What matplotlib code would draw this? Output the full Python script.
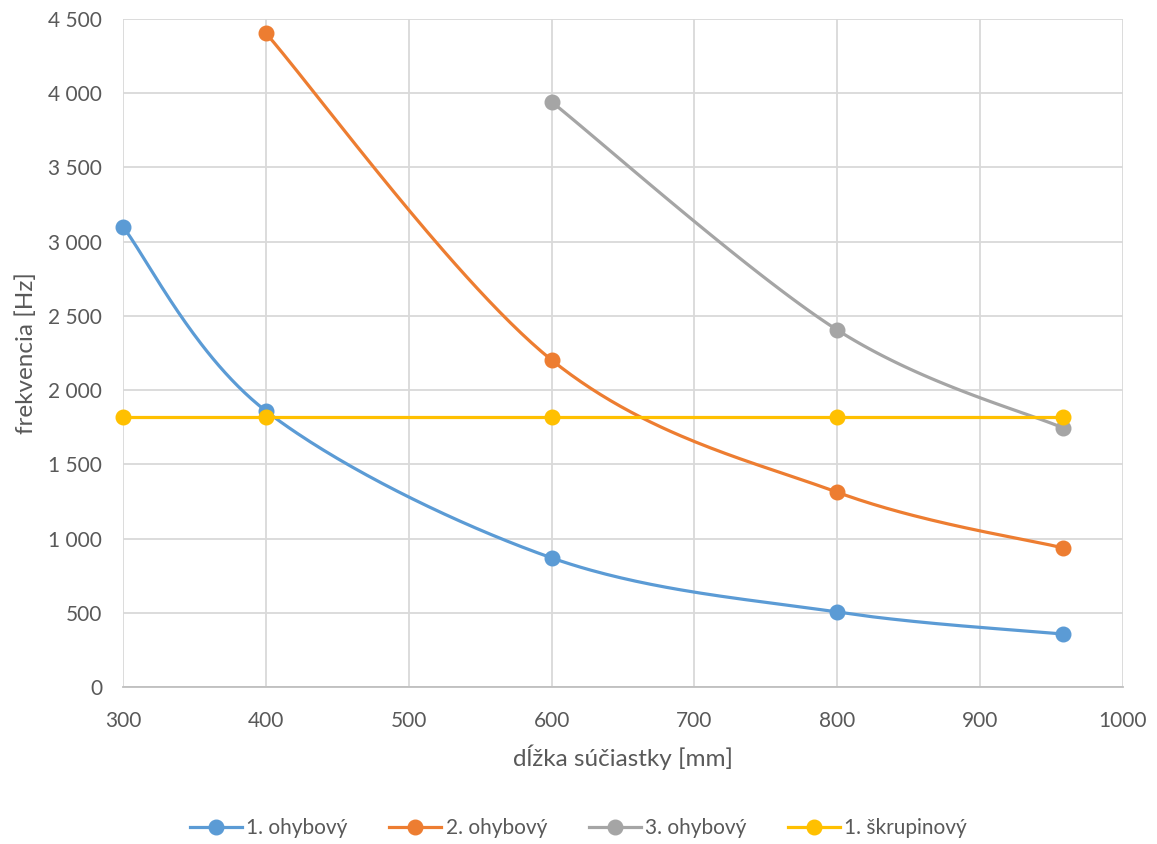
import numpy as np
import matplotlib.pyplot as plt
from matplotlib.ticker import FuncFormatter, MultipleLocator

plt.rcParams['font.family'] = ['Lato', 'DejaVu Sans']

# data
x_blue = [300, 400, 600, 800, 958]
y_blue = [3100, 1860, 870, 505, 357]
x_orange = [400, 600, 800, 958]
y_orange = [4405, 2203, 1312, 937]
x_gray = [600, 800, 958]
y_gray = [3942, 2405, 1745]
x_yellow = [300, 400, 600, 800, 958]
y_yellow = [1820, 1820, 1820, 1820, 1820]

labels = ['1. ohybový', '2. ohybový', '3. ohybový', '1. škrupinový']
colors = ['#5B9BD5', '#ED7D31', '#A5A5A5', '#FFC000']
series = [(x_blue, y_blue), (x_orange, y_orange), (x_gray, y_gray), (x_yellow, y_yellow)]


# Excel-like smoothed line (cubic Bezier through points, Catmull-Rom tangents)
def smooth(xs, ys, n=60):
    p = np.column_stack([xs, ys]).astype(float)
    if len(p) < 3:
        return p[:, 0], p[:, 1]
    ext = np.vstack([p[0], p, p[-1]])
    out = []
    t = np.linspace(0, 1, n)[:, None]
    for i in range(1, len(ext) - 2):
        p0, p1, p2, p3 = ext[i - 1], ext[i], ext[i + 1], ext[i + 2]
        c1 = p1 + (p2 - p0) / 6
        c2 = p2 - (p3 - p1) / 6
        seg = ((1 - t) ** 3) * p1 + 3 * ((1 - t) ** 2) * t * c1 + 3 * (1 - t) * t ** 2 * c2 + t ** 3 * p2
        out.append(seg)
    out = np.vstack(out)
    return out[:, 0], out[:, 1]


fig = plt.figure(figsize=(11.57, 8.44), dpi=100)
ax = fig.add_axes([123 / 1157, 1 - 687 / 844, 1000 / 1157, 668 / 844])

for (xs, ys), c, lab in zip(series, colors, labels):
    sx, sy = smooth(xs, ys)
    ax.plot(sx, sy, color=c, lw=2.3, solid_capstyle='round', zorder=3, clip_on=False)
    ax.plot(xs, ys, 'o', color=c, ms=10.5, zorder=4, clip_on=False)
    ax.plot([], [], '-o', color=c, lw=2.3, ms=10.5, label=lab)

ax.set_xlim(300, 1000)
ax.set_ylim(0, 4500)
ax.xaxis.set_major_locator(MultipleLocator(100))
ax.yaxis.set_major_locator(MultipleLocator(500))
ax.yaxis.set_major_formatter(FuncFormatter(lambda v, p: f'{int(v):,}'.replace(',', ' ')))
ax.grid(True, color='#D9D9D9', lw=1.3, zorder=0)
ax.set_axisbelow(True)
for s in ['top', 'right', 'left']:
    ax.spines[s].set_visible(False)
ax.spines['bottom'].set_color('#BFBFBF')
ax.spines['bottom'].set_linewidth(1.3)
ax.tick_params(length=0, labelsize=15, labelcolor='#595959')
ax.tick_params(axis='x', pad=17)
ax.tick_params(axis='y', pad=15)
ax.set_xlabel('dĺžka súčiastky [mm]', fontsize=17.5, color='#595959', labelpad=10)
ax.set_ylabel('frekvencia [Hz]', fontsize=17.5, color='#595959', labelpad=8)

fig.legend(loc='center', bbox_to_anchor=(0.5, 1 - 828 / 844), ncol=4, frameon=False,
           fontsize=15, labelcolor='#595959', handlelength=2.5, handletextpad=0.2,
           columnspacing=2.0)

fig.savefig('out.png', dpi=100)
